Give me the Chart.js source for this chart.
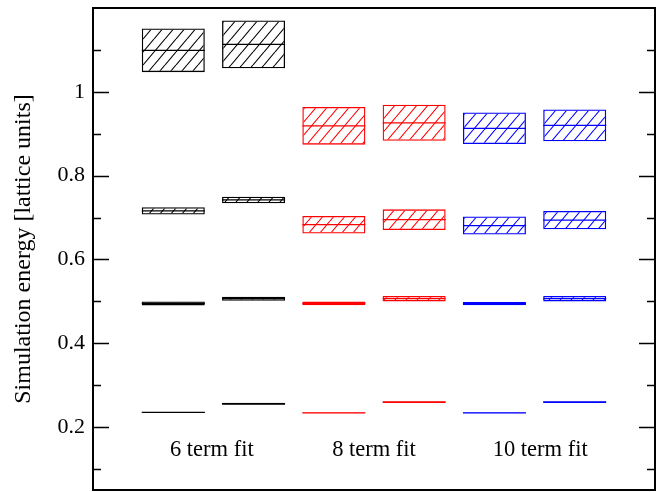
<!DOCTYPE html>
<html>
<head>
<meta charset="utf-8">
<script src="https://cdn.jsdelivr.net/npm/chart.js@4.4.1/dist/chart.umd.min.js"></script>
<style>
  html, body { margin: 0; padding: 0; background: #fff; }
  #wrap { width: 668px; height: 492px; }
</style>
</head>
<body>
<div id="wrap"><canvas id="energias"></canvas></div>
<script>
// posiciones de las columnas y colores
const columnas = [1, 2, 3, 4, 5, 6];
const colores = ["#000000", "#000000", "#ff0000", "#ff0000", "#0000ff", "#0000ff"];

// niveles de energia: valor central y error
const nivel1 = [0.235, 0.2557, 0.234, 0.2595, 0.234, 0.2595];
const error1 = [0.0012, 0.0022, 0.0010, 0.0022, 0.0010, 0.0022];
const nivel2 = [0.4952, 0.5064, 0.4950, 0.5064, 0.4945, 0.5064];
const error2 = [0.0048, 0.0048, 0.0045, 0.0064, 0.0040, 0.0064];
const nivel3 = [0.716, 0.742, 0.683, 0.695, 0.681, 0.694];
const error3 = [0.0088, 0.0079, 0.021, 0.0246, 0.0214, 0.0218];
const nivel4 = [1.099, 1.113, 0.919, 0.926, 0.913, 0.920];
const error4 = [0.052, 0.057, 0.045, 0.043, 0.0375, 0.038];

// etiquetas de los grupos
const grupos = ["6 term fit", "8 term fit", "10 term fit"];
const gruposX = [1.48, 3.5, 5.57];
const gruposY = 0.146;

// marcas del eje y
const ticksMayores = [0.2, 0.4, 0.6, 0.8, 1];
const ticksMenores = [0.1, 0.3, 0.5, 0.7, 0.9, 1.1];

const ANCHO = 0.785;
const FUENTE = "'Liberation Serif', 'Times New Roman', serif";

// Rayado diagonal
function rayado(color) {
    const w = 11, h = 13;
    const c = document.createElement("canvas");
    c.width = w; c.height = h;
    const g = c.getContext("2d");
    g.strokeStyle = color;
    g.lineWidth = 1.1;
    g.beginPath();
    for (let k = -1; k <= 1; k++) {
        g.moveTo(k * w, h); g.lineTo(k * w + w, 0);
    }
    g.stroke();
    return g.createPattern(c, "repeat");
}
const patrones = {};
colores.forEach(c => { if (!patrones[c]) patrones[c] = rayado(c); });

function caja(centros, errores) {
    return columnas.map((x, i) => ({ x: x, y: [centros[i] - errores[i], centros[i] + errores[i]] }));
}
function linea(centros) {
    return columnas.map((x, i) => ({ x: x, y: centros[i] }));
}

const niveles = [[nivel1, error1], [nivel2, error2], [nivel3, error3], [nivel4, error4]];
const datasets = [];
niveles.forEach(n => {
    datasets.push({
        type: "bar",
        data: caja(n[0], n[1]),
        backgroundColor: colores.map(c => patrones[c]),
        borderColor: colores,
        borderWidth: 1.3,
        borderSkipped: false,
        grouped: false,
        barPercentage: ANCHO,
        categoryPercentage: 1
    });
    datasets.push({
        type: "scatter",
        data: linea(n[0]),
        pointStyle: "line",
        borderColor: colores,
        pointBorderWidth: 1.3,
        pointRadius: ctx => {
            const x = ctx.chart.scales.x;
            return (x.getPixelForValue(ANCHO) - x.getPixelForValue(0)) / 2;
        }
    });
});

// Marco, marcas hacia dentro y etiquetas de grupo
const marco = {
    id: "marco",
    afterDraw(chart) {
        const ctx = chart.ctx;
        const a = chart.chartArea;
        const y = chart.scales.y;
        const x = chart.scales.x;
        ctx.save();
        ctx.strokeStyle = "#000";
        ctx.lineWidth = 1.5;
        ticksMayores.concat(ticksMenores).forEach(v => {
            const py = Math.round(y.getPixelForValue(v)) + 0.5;
            const largo = ticksMayores.includes(v) ? 16 : 8;
            ctx.beginPath();
            ctx.moveTo(a.left, py); ctx.lineTo(a.left + largo, py);
            ctx.moveTo(a.right, py); ctx.lineTo(a.right - largo, py);
            ctx.stroke();
        });
        ctx.lineWidth = 2;
        ctx.strokeRect(a.left, a.top, a.right - a.left, a.bottom - a.top);
        ctx.fillStyle = "#000";
        ctx.font = "22.5px " + FUENTE;
        ctx.textAlign = "center";
        ctx.textBaseline = "middle";
        grupos.forEach((t, i) => {
            ctx.fillText(t, x.getPixelForValue(gruposX[i]), y.getPixelForValue(gruposY));
        });
        ctx.restore();
    }
};

new Chart(document.getElementById("energias"), {
    type: "bar",
    data: { datasets: datasets },
    options: {
        responsive: true,
        maintainAspectRatio: false,
        animation: false,
        events: [],
        layout: { padding: { top: 8, right: 13, bottom: 2, left: 0 } },
        plugins: { legend: { display: false }, tooltip: { enabled: false } },
        scales: {
            x: {
                type: "linear",
                min: 0,
                max: 7,
                offset: false,
                display: false
            },
            y: {
                type: "linear",
                min: 0.05,
                max: 1.2,
                grid: { display: false, drawTicks: false },
                border: { display: false },
                afterBuildTicks: s => {
                    s.ticks = ticksMayores.concat(ticksMenores).map(v => ({ value: v }));
                },
                afterFit: s => {
                    s.width = 93;
                    s.paddingTop = 0;
                    s.paddingBottom = 0;
                },
                ticks: {
                    padding: 8,
                    color: "#000",
                    font: { family: FUENTE, size: 22 },
                    callback: v => ticksMayores.includes(v) ? String(v) : ""
                },
                title: {
                    display: true,
                    text: "Simulation energy [lattice units]",
                    color: "#000",
                    font: { family: FUENTE, size: 24 },
                    padding: { top: 9, bottom: 0 }
                }
            }
        }
    },
    plugins: [marco]
});
</script>
</body>
</html>
